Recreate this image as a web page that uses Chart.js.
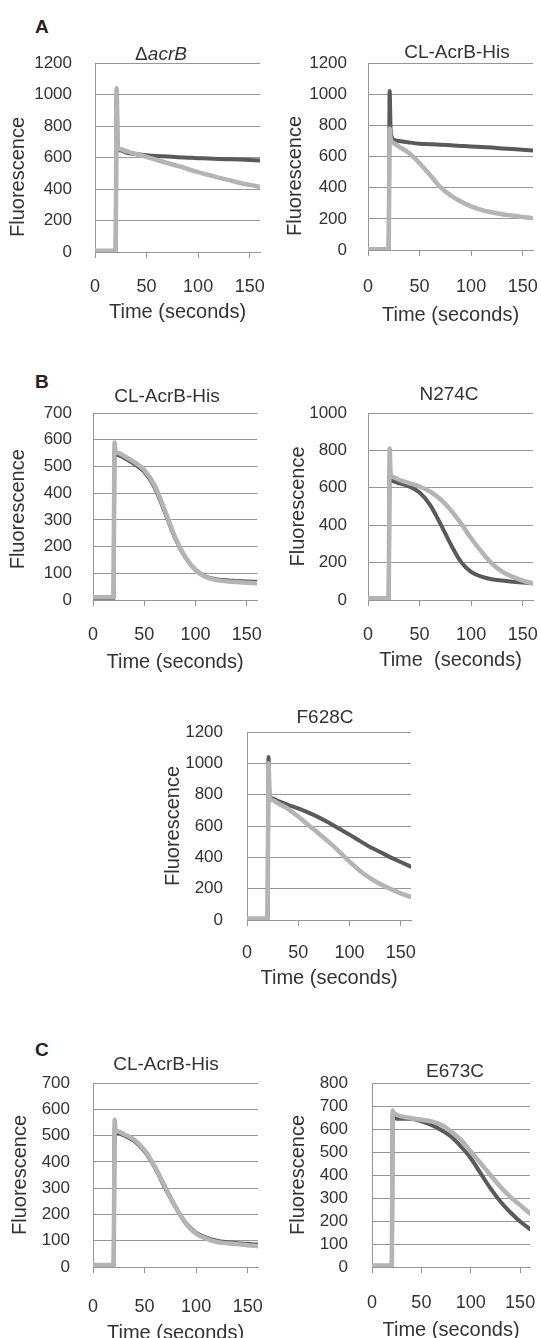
<!DOCTYPE html>
<html>
<head>
<meta charset="utf-8">
<script src="https://cdn.jsdelivr.net/npm/chart.js@4.4.1/dist/chart.umd.min.js"></script>
<style>
  html, body { margin: 0; padding: 0; background: #fff; }
  #page { position: relative; width: 541px; height: 1338px; overflow: hidden; background: #fff; }
  #page canvas { position: absolute; }
  .letter { position: absolute; font: bold 19px "Liberation Sans", Arial, sans-serif; color: #222; line-height: 22px; }
</style>
</head>
<body>
<div id="page">
  <div class="letter" style="left:35px;top:16px">A</div>
  <div class="letter" style="left:35px;top:371px">B</div>
  <div class="letter" style="left:35px;top:1039px">C</div>
</div>
<script>
// time axis (seconds), shared by every trace
const time = [0, 10, 20, 21, 22, 25, 30, 40, 50, 60, 70, 80, 90, 100, 110, 120, 130, 140, 150, 160];
const xTicks = [0, 50, 100, 150];
const yTicks700 = [0, 100, 200, 300, 400, 500, 600, 700];
const yTicks800 = [0, 100, 200, 300, 400, 500, 600, 700, 800];
const yTicks1000 = [0, 200, 400, 600, 800, 1000];
const yTicks1200 = [0, 200, 400, 600, 800, 1000, 1200];

// A: delta acrB
const acrBDark  = [5, 5, 5, 1000, 650, 645, 632, 622, 614, 609, 606, 602, 599, 596, 594, 591, 589, 587, 584, 581];
const acrBLight = [8, 8, 8, 1040, 662, 652, 640, 622, 604, 584, 565, 547, 527, 507, 490, 472, 456, 440, 426, 414];
// A: CL-AcrB-His
const clA_Dark  = [5, 5, 5, 1020, 760, 708, 700, 690, 682, 679, 676, 672, 668, 664, 661, 657, 652, 648, 643, 638];
const clA_Light = [5, 5, 5, 780, 715, 686, 664, 621, 557, 482, 405, 350, 311, 280, 258, 242, 230, 221, 212, 204];
// B: CL-AcrB-His
const clB_Dark  = [5, 5, 5, 560, 545, 542, 533, 510, 480, 422, 330, 232, 160, 113, 88, 78, 74, 71, 69, 68];
const clB_Light = [10, 10, 10, 590, 555, 550, 540, 517, 487, 430, 337, 236, 161, 112, 86, 75, 70, 67, 65, 63];
// B: N274C
const n274Dark  = [5, 5, 5, 700, 645, 634, 625, 607, 575, 510, 410, 300, 205, 150, 125, 111, 104, 98, 93, 89];
const n274Light = [10, 10, 10, 810, 668, 657, 643, 625, 607, 580, 540, 482, 411, 330, 259, 196, 152, 125, 104, 89];
// B: F628C
const f628Dark  = [5, 5, 5, 1040, 790, 775, 760, 735, 712, 685, 655, 620, 582, 545, 505, 466, 434, 400, 370, 340];
const f628Light = [10, 10, 10, 1000, 785, 765, 745, 710, 660, 605, 552, 497, 437, 372, 315, 268, 230, 198, 170, 147];
// C: CL-AcrB-His
const clC_Dark  = [5, 5, 5, 530, 515, 509, 500, 480, 440, 378, 300, 228, 167, 130, 112, 100, 94, 90, 88, 86];
const clC_Light = [8, 8, 8, 560, 520, 515, 505, 484, 445, 382, 305, 229, 165, 127, 108, 95, 90, 87, 83, 80];
// C: E673C
const e673Dark  = [5, 5, 5, 670, 660, 645, 645, 645, 633, 618, 596, 567, 524, 473, 407, 342, 285, 238, 198, 165];
const e673Light = [5, 5, 5, 680, 670, 662, 655, 647, 640, 633, 618, 589, 553, 502, 451, 400, 349, 305, 269, 233];

const DARK = '#5a5a5a';
const LIGHT = '#b4b4b4';
const GRID = '#969696';
const TEXT = '#333333';
const FONT = '"Liberation Sans", Arial, sans-serif';
Chart.defaults.font.family = FONT;
Chart.defaults.color = TEXT;

// panel title drawn at a fixed spot (Excel does not center it on the plot)
const panelTitle = {
  id: 'panelTitle',
  afterDraw(chart, args, opts) {
    const ctx = chart.ctx;
    ctx.save();
    ctx.fillStyle = TEXT;
    ctx.textBaseline = 'middle';
    ctx.textAlign = 'left';
    const fonts = opts.parts.map(p => (p.italic ? 'italic ' : '') + '19px ' + FONT);
    let total = 0;
    const widths = opts.parts.map((p, i) => {
      ctx.font = fonts[i];
      const w = ctx.measureText(p.text).width;
      total += w;
      return w;
    });
    let x = opts.x - total / 2;
    opts.parts.forEach((p, i) => {
      ctx.font = fonts[i];
      ctx.fillText(p.text, x, opts.y);
      x += widths[i];
    });
    ctx.restore();
  }
};

// plot: [left, top, right, bottom] of the plot area on the page
const panels = [
  { title: [{text: '\u0394'}, {text: 'acrB', italic: true}], dark: acrBDark, light: acrBLight, yMax: 1200, yTicks: yTicks1200,
    plot: [95, 63, 260, 252], yTitleX: 18, xTitleY: 312, xTickY: 287, yLabelRight: 72, at: [161, 55], yShift: 7 },
  { title: [{text: 'CL-AcrB-His'}], dark: clA_Dark, light: clA_Light, yMax: 1200, yTicks: yTicks1200,
    plot: [368, 63, 533, 250], yTitleX: 295, xTitleY: 315, xTickY: 287, yLabelRight: 347, at: [457, 53], yShift: 7 },
  { title: [{text: 'CL-AcrB-His'}], dark: clB_Dark, light: clB_Light, yMax: 700, yTicks: yTicks700,
    plot: [93, 413, 257, 600], yTitleX: 18, xTitleY: 662, xTickY: 635, yLabelRight: 72, at: [167, 397], yShift: 1 },
  { title: [{text: 'N274C'}], dark: n274Dark, light: n274Light, yMax: 1000, yTicks: yTicks1000,
    plot: [368, 413, 533, 600], yTitleX: 298, xTitleY: 660, xTickY: 635, yLabelRight: 347, at: [449, 395], yShift: 0,
    xTitle: 'Time  (seconds)' },
  { title: [{text: 'F628C'}], dark: f628Dark, light: f628Light, yMax: 1200, yTicks: yTicks1200,
    plot: [247, 732, 411, 920], yTitleX: 173, xTitleY: 978, xTickY: 953, yLabelRight: 223, at: [325, 718], yShift: 0 },
  { title: [{text: 'CL-AcrB-His'}], dark: clC_Dark, light: clC_Light, yMax: 700, yTicks: yTicks700,
    plot: [93, 1083, 258, 1267], yTitleX: 20, xTitleY: 1333, xTickY: 1307, yLabelRight: 70, at: [166, 1065], yShift: 0 },
  { title: [{text: 'E673C'}], dark: e673Dark, light: e673Light, yMax: 800, yTicks: yTicks800,
    plot: [372, 1083, 530, 1267], yTitleX: 298, xTitleY: 1330, xTickY: 1303, yLabelRight: 348, at: [455, 1072], yShift: 0 }
];

const PAD_TOP = 40;
const PAD_RIGHT = 34;
const page = document.getElementById('page');

panels.forEach(p => {
  const [L, T, R, B] = p.plot;
  const left = p.yTitleX - 12;
  const top = T - PAD_TOP;
  const bottom = p.xTitleY + 12;
  const cv = document.createElement('canvas');
  cv.width = R + PAD_RIGHT - left;
  cv.height = bottom - top;
  cv.style.left = left + 'px';
  cv.style.top = top + 'px';
  page.appendChild(cv);

  new Chart(cv, {
    type: 'line',
    data: {
      datasets: [
        { data: time.map((t, i) => ({x: t, y: p.light[i]})), borderColor: LIGHT, borderWidth: 4.5 },
        { data: time.map((t, i) => ({x: t, y: p.dark[i]})), borderColor: DARK, borderWidth: 4 }
      ]
    },
    options: {
      responsive: false,
      animation: false,
      layout: { padding: { top: PAD_TOP, right: PAD_RIGHT, left: 0, bottom: 0 } },
      elements: {
        point: { radius: 0 },
        line: { cubicInterpolationMode: 'monotone', borderCapStyle: 'round', borderJoinStyle: 'round' }
      },
      plugins: {
        legend: { display: false },
        tooltip: { enabled: false },
        panelTitle: { parts: p.title, x: p.at[0] - left, y: p.at[1] - top }
      },
      scales: {
        x: {
          type: 'linear', min: 0, max: 160,
          afterBuildTicks: s => { s.ticks = xTicks.map(v => ({value: v})); },
          afterFit: s => { s.height = bottom - B; },
          ticks: { autoSkip: false, padding: p.xTickY - B - 6 - 10.8, maxRotation: 0,
                   font: { size: 18 }, callback: v => String(v) },
          grid: { drawOnChartArea: false, tickLength: 6, color: GRID },
          border: { color: GRID },
          title: { display: true, text: p.xTitle || 'Time (seconds)', font: { size: 20 }, padding: 0 }
        },
        y: {
          min: 0, max: p.yMax,
          afterBuildTicks: s => { s.ticks = p.yTicks.map(v => ({value: v})); },
          afterFit: s => { s.width = L - left; },
          ticks: { autoSkip: false, padding: L - p.yLabelRight, font: { size: 17 }, callback: v => String(v) },
          grid: { color: GRID, drawTicks: false },
          border: { color: GRID },
          title: { display: true, text: 'Fluorescence' + ' '.repeat(p.yShift), font: { size: 20 }, padding: 0 }
        }
      }
    },
    plugins: [panelTitle]
  });
});
</script>
</body>
</html>
